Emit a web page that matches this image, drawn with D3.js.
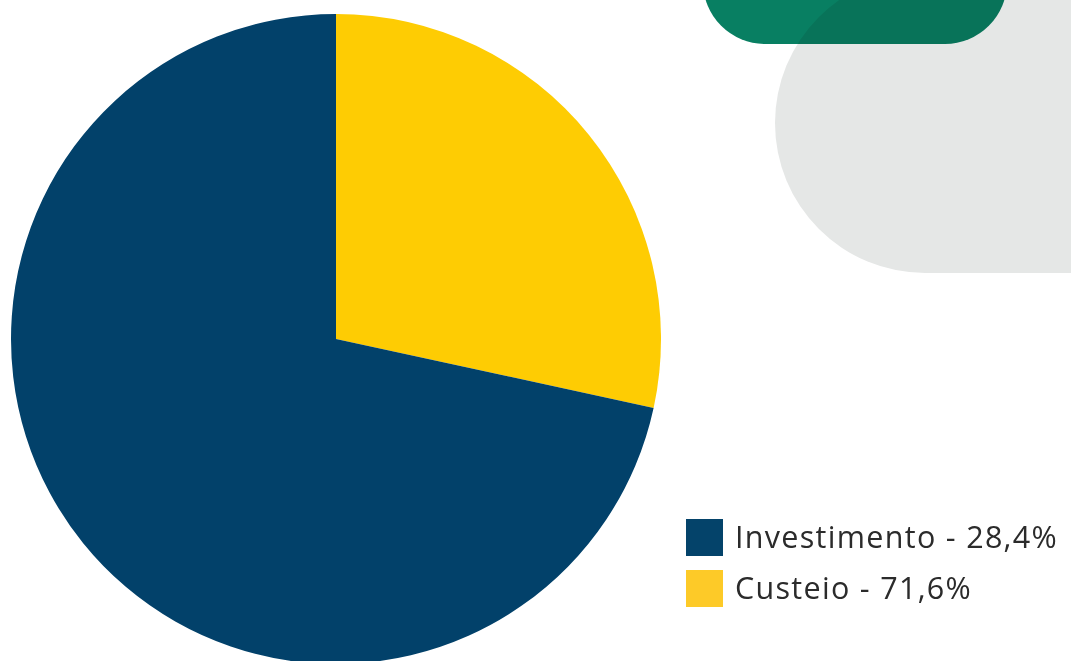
<!DOCTYPE html>
<html>
<head>
<meta charset="utf-8">
<script src="https://cdn.jsdelivr.net/npm/d3@7"></script>
<style>
  html, body { margin: 0; padding: 0; background: #ffffff; }
  svg { display: block; }
</style>
</head>
<body>
<svg id="chart" width="1071" height="661"></svg>
<script>
// Budget split
const categories = ["Investimento", "Custeio"];
const values = [28.4, 71.6];
// Slice colours (pie) and legend swatch colours
const sliceColors = ["#fecc03", "#02416a"];
const swatchColors = ["#04436a", "#fdca28"];

const W = 1071, H = 661;
const svg = d3.select("#chart");

// Decorative background shapes
const deco = svg.append("g");
deco.append("rect")
  .attr("x", 775).attr("y", -27)
  .attr("width", 450).attr("height", 300)
  .attr("rx", 150).attr("ry", 150)
  .attr("fill", "#e5e7e6");
deco.append("rect")
  .attr("x", 703).attr("y", -120)
  .attr("width", 304).attr("height", 164)
  .attr("rx", 62).attr("ry", 62)
  .attr("fill", "#087f62")
  .style("mix-blend-mode", "multiply");

// Pie
const cx = 336, cy = 339, r = 325;
const pie = d3.pie().sort(null).value(d => d.value);
const arc = d3.arc().innerRadius(0).outerRadius(r);
const data = categories.map((c, i) => ({ name: c, value: values[i], color: sliceColors[i] }));

svg.append("g")
  .attr("transform", `translate(${cx},${cy})`)
  .selectAll("path")
  .data(pie(data))
  .join("path")
  .attr("d", arc)
  .attr("fill", d => d.data.color);

// Legend
const fmt = v => v.toFixed(1).replace(".", ",") + "%";
const legend = svg.append("g").attr("transform", "translate(686,519)");
const item = legend.selectAll("g")
  .data(data)
  .join("g")
  .attr("transform", (d, i) => `translate(0,${i * 51})`);
item.append("rect")
  .attr("width", 37).attr("height", 37)
  .attr("fill", (d, i) => swatchColors[i]);
item.append("text")
  .attr("x", 49).attr("y", 29)
  .attr("font-family", "'Open Sans', sans-serif")
  .attr("font-size", 30.5)
  .attr("letter-spacing", 1.3)
  .attr("fill", "#2b2b2b")
  .text(d => `${d.name} - ${fmt(d.value)}`);
</script>
</body>
</html>
